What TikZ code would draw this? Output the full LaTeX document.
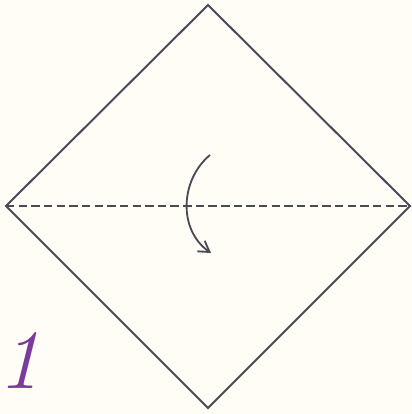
\documentclass[tikz,border=0pt]{standalone}
\usepackage{tikz}
\usetikzlibrary{arrows.meta}
\definecolor{paper}{HTML}{FFFDF6}
\definecolor{creaseline}{HTML}{4A4A55}
\definecolor{steppurple}{HTML}{7A3C9C}

\begin{document}
\begin{tikzpicture}[
  x=0.25mm, y=-0.25mm,
  edge/.style={draw=creaseline, line width=1.4pt, line join=miter},
  valley/.style={draw=creaseline, line width=1.4pt, dash pattern=on 6pt off 3pt},
  foldarr/.style={draw=creaseline, line width=1.3pt, -{Straight Barb[length=2.6mm, width=3.2mm]}},
]
\fill[paper] (0,0) rectangle (412,414);
\useasboundingbox (0,0) rectangle (412,414);

% corners of the square
\coordinate (top)    at (208,5);
\coordinate (left)   at (6,206);
\coordinate (right)  at (410,206);
\coordinate (bottom) at (208,408);

\draw[edge] (top) -- (right) -- (bottom) -- (left) -- cycle;
\draw[valley] (left) -- (right);

% fold arrow
\coordinate (arrS) at (210,155);
\coordinate (arrE) at (211,253);
\draw[foldarr] (arrS) .. controls (180,180) and (178,230) .. (arrE);

\node[text=steppurple, font=\fontsize{60}{60}\selectfont\itshape,
      anchor=south west, inner sep=0pt] (num) at (-2,389) {1};
\end{tikzpicture}
\end{document}
